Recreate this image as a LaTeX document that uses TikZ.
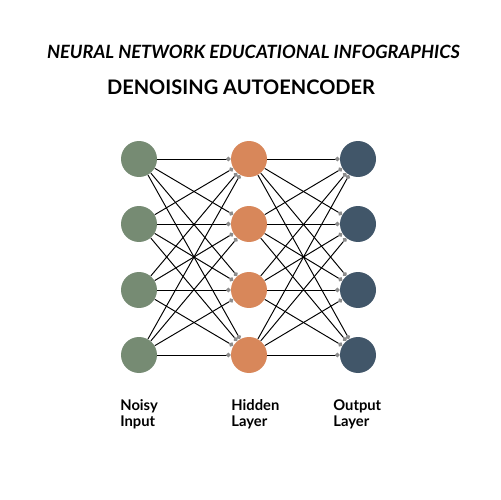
\documentclass[tikz,border=0pt]{standalone}
\usepackage{fontspec}
\setmainfont{Lato}
\usetikzlibrary{arrows.meta}
\definecolor{noisygreen}{HTML}{768B73}
\definecolor{hiddenorange}{HTML}{D8875A}
\definecolor{outputslate}{HTML}{415669}
\definecolor{dotgray}{HTML}{8C8C8C}

\begin{document}
\begin{tikzpicture}[x=0.02cm, y=-0.02cm, >={Circle[length=2.6pt, color=dotgray]},
  neuron/.style={circle, inner sep=0pt, minimum size=0.72cm},
  link/.style={->, black, line width=0.55pt},
  layername/.style={anchor=north west, align=left, inner sep=0pt, font=\fontsize{8.4}{9.2}\selectfont\bfseries}]
  \useasboundingbox[fill=white] (0,0) rectangle (500,500);
  % titles
  \node (title) at (253.5,52) {\fontsize{10.4}{12}\selectfont\bfseries\itshape NEURAL NETWORK EDUCATIONAL INFOGRAPHICS};
  \node (subtitle) at (241,87) {\fontsize{11.4}{13}\selectfont\bfseries DENOISING AUTOENCODER};
  % neurons
  \foreach \i/\y in {1/159, 2/224, 3/290, 4/355} {
    \node[neuron, fill=noisygreen] (in\i) at (139,\y) {};
    \node[neuron, fill=hiddenorange] (hid\i) at (249,\y) {};
    \node[neuron, fill=outputslate] (out\i) at (358,\y) {};
  }
  % connections
  \foreach \i in {1,...,4}
    \foreach \j in {1,...,4} {
      \draw[link] (in\i) -- (hid\j);
      \draw[link] (hid\i) -- (out\j);
    }
  % layer names
  \node[layername] (noisy) at (120,399) {Noisy\\Input};
  \node[layername] (hidden) at (231,399) {Hidden\\Layer};
  \node[layername] (output) at (333,399) {Output\\Layer};
\end{tikzpicture}
\end{document}
